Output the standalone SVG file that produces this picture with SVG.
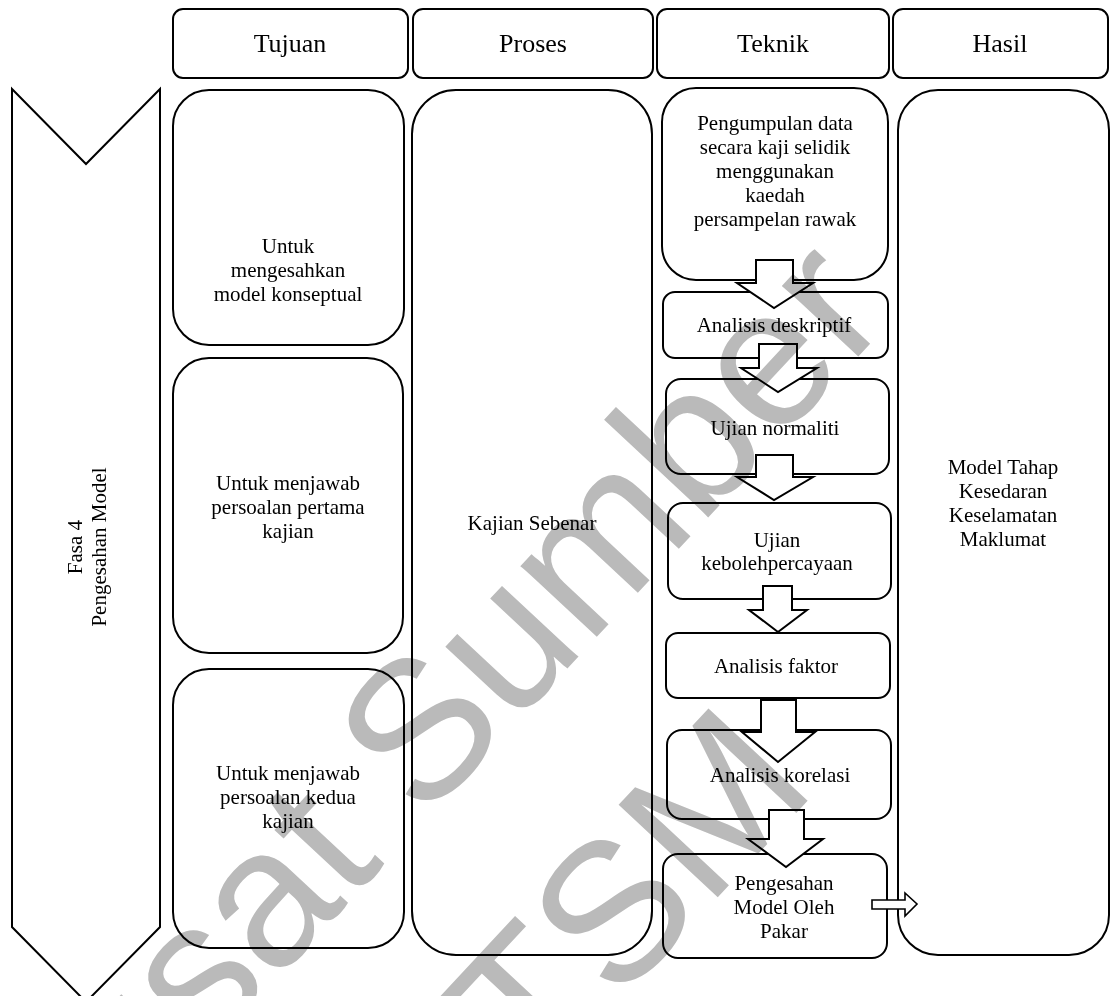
<svg xmlns="http://www.w3.org/2000/svg" width="1112" height="996" viewBox="0 0 1112 996">
  <style>
    .box { fill: none; stroke: #000; stroke-width: 2; }
    .arrow { fill: #fff; stroke: #000; stroke-width: 2; stroke-linejoin: miter; }
    .head { font-family: "Liberation Serif", "Times New Roman", serif; font-size: 26px; fill: #000; text-anchor: middle; }
    .lbl { font-family: "Liberation Serif", "Times New Roman", serif; font-size: 21px; fill: #000; text-anchor: middle; }
    .wm { font-family: "Liberation Sans", Arial, sans-serif; font-size: 197px; fill: #bababa; text-anchor: middle; }
  </style>
  <rect x="0" y="0" width="1112" height="996" fill="#fff"/>

  <!-- column headers -->
  <g id="hdr-tujuan"><rect class="box" x="173" y="9" width="235" height="69" rx="10"/><text class="head" x="290" y="52">Tujuan</text></g>
  <g id="hdr-proses"><rect class="box" x="413" y="9" width="240" height="69" rx="10"/><text class="head" x="533" y="52">Proses</text></g>
  <g id="hdr-teknik"><rect class="box" x="657" y="9" width="232" height="69" rx="10"/><text class="head" x="773" y="52">Teknik</text></g>
  <g id="hdr-hasil"><rect class="box" x="893" y="9" width="215" height="69" rx="10"/><text class="head" x="1000" y="52">Hasil</text></g>

  <!-- phase chevron -->
  <g id="fasa">
    <polygon class="box" points="12,89 86,164 160,89 160,927 86,1002 12,927"/>
    <text class="lbl" transform="translate(82,547) rotate(-90)"><tspan x="0" y="0">Fasa 4</tspan><tspan x="0" y="24">Pengesahan Model</tspan></text>
  </g>

  <!-- Tujuan column -->
  <g id="tujuan-1"><rect class="box" x="173" y="90" width="231" height="255" rx="36"/>
    <text class="lbl"><tspan x="288" y="253">Untuk</tspan><tspan x="288" y="277">mengesahkan</tspan><tspan x="288" y="301">model konseptual</tspan></text></g>
  <g id="tujuan-2"><rect class="box" x="173" y="358" width="230" height="295" rx="36"/>
    <text class="lbl"><tspan x="288" y="490">Untuk menjawab</tspan><tspan x="288" y="514">persoalan pertama</tspan><tspan x="288" y="538">kajian</tspan></text></g>
  <g id="tujuan-3"><rect class="box" x="173" y="669" width="231" height="279" rx="36"/>
    <text class="lbl"><tspan x="288" y="780">Untuk menjawab</tspan><tspan x="288" y="804">persoalan kedua</tspan><tspan x="288" y="828">kajian</tspan></text></g>

  <!-- Proses column -->
  <g id="proses"><rect class="box" x="412" y="90" width="240" height="865" rx="44"/>
    <text class="lbl" x="532" y="530">Kajian Sebenar</text></g>

  <!-- Teknik column -->
  <g id="t-pengumpulan"><rect class="box" x="662" y="88" width="226" height="192" rx="34"/>
    <text class="lbl"><tspan x="775" y="130">Pengumpulan data</tspan><tspan x="775" y="154">secara kaji selidik</tspan><tspan x="775" y="178">menggunakan</tspan><tspan x="775" y="202">kaedah</tspan><tspan x="775" y="226">persampelan rawak</tspan></text></g>
  <g id="t-deskriptif"><rect class="box" x="663" y="292" width="225" height="66" rx="12"/>
    <text class="lbl" x="774" y="332">Analisis deskriptif</text></g>
  <g id="t-normaliti"><rect class="box" x="666" y="379" width="223" height="95" rx="15"/>
    <text class="lbl" x="775" y="435">Ujian normaliti</text></g>
  <g id="t-kebolehpercayaan"><rect class="box" x="668" y="503" width="223" height="96" rx="15"/>
    <text class="lbl"><tspan x="777" y="547">Ujian</tspan><tspan x="777" y="570">kebolehpercayaan</tspan></text></g>
  <g id="t-faktor"><rect class="box" x="666" y="633" width="224" height="65" rx="12"/>
    <text class="lbl" x="776" y="673">Analisis faktor</text></g>
  <g id="t-korelasi"><rect class="box" x="667" y="730" width="224" height="89" rx="15"/>
    <text class="lbl" x="780" y="782">Analisis korelasi</text></g>
  <g id="t-pengesahan"><rect class="box" x="663" y="854" width="224" height="104" rx="15"/>
    <text class="lbl"><tspan x="784" y="890">Pengesahan</tspan><tspan x="784" y="914">Model Oleh</tspan><tspan x="784" y="938">Pakar</tspan></text></g>

  <!-- Hasil column -->
  <g id="hasil"><rect class="box" x="898" y="90" width="211" height="865" rx="40"/>
    <text class="lbl"><tspan x="1003" y="474">Model Tahap</tspan><tspan x="1003" y="498">Kesedaran</tspan><tspan x="1003" y="522">Keselamatan</tspan><tspan x="1003" y="546">Maklumat</tspan></text></g>

  <!-- block arrows between steps -->
  <g id="connectors">
    <polygon class="arrow" points="756,260 793,260 793,283 813,283 774,308 737,283 756,283"/>
    <polygon class="arrow" points="759,344 797,344 797,368 817,368 778,392 741,368 759,368"/>
    <polygon class="arrow" points="756,455 793,455 793,477 813,477 774,500 737,477 756,477"/>
    <polygon class="arrow" points="763,586 792,586 792,610 807,610 778,632 749,610 763,610"/>
    <polygon class="arrow" points="761,700 796,700 796,732 815,732 778,762 742,732 761,732"/>
    <polygon class="arrow" points="769,810 804,810 804,839 823,839 786,867 748,839 769,839"/>
    <polygon class="arrow" style="stroke-width:1.6" points="872,900 905,900 905,893 917,904 905,916 905,909 872,909"/>
  </g>

  <!-- library stamp -->
  <g id="watermark" style="mix-blend-mode:multiply">
    <text class="wm" transform="translate(468,775) rotate(-47)"><tspan x="0" y="0">Pusat Sumber</tspan><tspan x="-39" y="266">FTSM</tspan></text>
  </g>
</svg>
